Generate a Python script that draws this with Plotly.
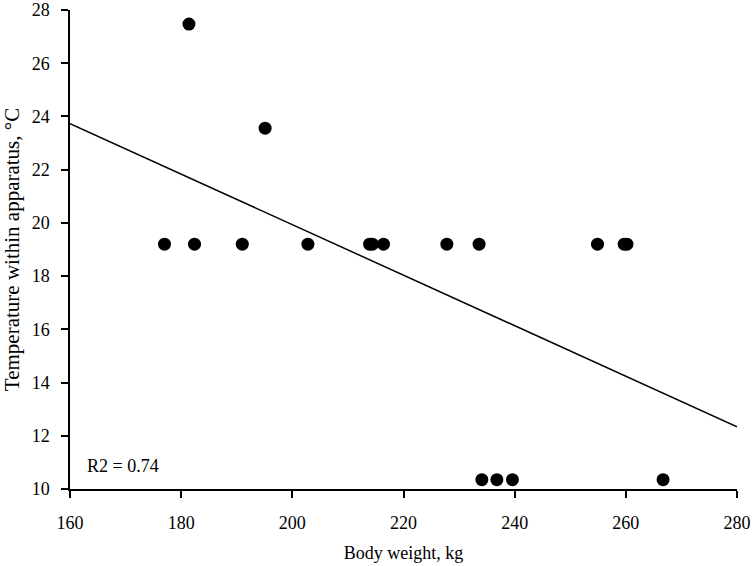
import plotly.graph_objects as go

body_weight = [181.4, 195.1, 177.0, 182.4, 191.0, 202.8, 213.9, 214.4, 216.4,
               227.8, 233.6, 254.9, 259.7, 260.2, 234.1, 236.8, 239.6, 266.7]
temperature = [27.47, 23.56, 19.2, 19.2, 19.2, 19.2, 19.2, 19.2, 19.2,
               19.2, 19.2, 19.2, 19.2, 19.2, 10.35, 10.35, 10.35, 10.35]
trend_x = [160, 280]
trend_y = [23.73, 12.34]
x_ticks = [160, 180, 200, 220, 240, 260, 280]
y_ticks = [10, 12, 14, 16, 18, 20, 22, 24, 26, 28]

FONT = "Liberation Serif, Times New Roman, serif"

fig = go.Figure()
fig.add_trace(go.Scatter(x=trend_x, y=trend_y, mode="lines",
                         line=dict(color="black", width=1.5),
                         showlegend=False, hoverinfo="skip"))
fig.add_trace(go.Scatter(x=body_weight, y=temperature, mode="markers",
                         marker=dict(color="black", size=13),
                         showlegend=False, cliponaxis=False))

fig.add_annotation(x=0.022, y=10.85, xref="paper", yref="y", text="R2 = 0.74",
                   showarrow=False, xanchor="left", yanchor="middle",
                   font=dict(family=FONT, size=18, color="black"))

fig.update_layout(
    width=752, height=566,
    margin=dict(l=70, r=15, t=10, b=77),
    paper_bgcolor="white", plot_bgcolor="white",
    font=dict(family=FONT, size=18, color="black"),
    xaxis=dict(range=[160, 280], tickvals=x_ticks, showgrid=False, zeroline=False,
               showline=True, linecolor="black", linewidth=1.5,
               ticks="outside", ticklen=7, tickwidth=1.5, tickcolor="black",
               ticklabelstandoff=10, automargin=False, ticklabeloverflow="allow",
               title=dict(text="Body weight, kg", standoff=14,
                          font=dict(family=FONT, size=18))),
    yaxis=dict(range=[10, 28], tickvals=y_ticks, showgrid=False, zeroline=False,
               showline=True, linecolor="black", linewidth=1.5,
               ticks="outside", ticklen=7, tickwidth=1.5, tickcolor="black",
               ticklabelstandoff=8, automargin=False, ticklabeloverflow="allow",
               title=dict(text="Temperature within apparatus, °C", standoff=10,
                          font=dict(family=FONT, size=21))),
)

fig.write_html("out.html",
               config={"displayModeBar": False},
               post_script="document.body.style.margin='0';document.body.style.overflow='hidden';")
